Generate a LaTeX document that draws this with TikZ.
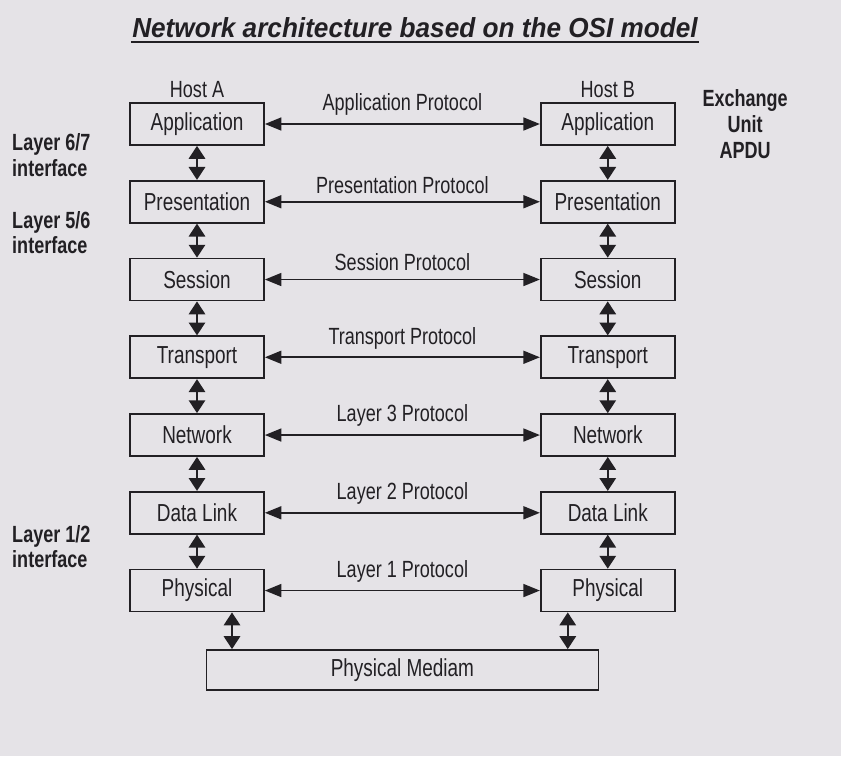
\documentclass[tikz,border=0pt]{standalone}
\usepackage{fontspec}
\setmainfont{Liberation Sans}[FakeStretch=0.77]
\newfontfamily\titlefont{Liberation Sans}[FakeStretch=0.95]
\usepackage{tikz}
\usetikzlibrary{positioning}
\usetikzlibrary{calc}
\usetikzlibrary{arrows.meta}

\definecolor{paper}{RGB}{229,227,231}
\definecolor{ink}{RGB}{34,32,36}

\tikzset{
	layerbox/.style={
		draw=ink,
		line width=1.5pt,
		fill=paper,
		text=ink,
		minimum width=4.02cm,
		minimum height=1.26cm,
		inner sep=0pt,
		font=\fontsize{21}{23}\selectfont
	},
	protocol/.style={
		draw=ink,
		line width=1.5pt,
		{Triangle[length=14pt,width=11pt]}-{Triangle[length=14pt,width=11pt]}
	},
	updown/.style={
		draw=ink,
		line width=1.5pt,
		{Triangle[length=11pt,width=14pt]}-{Triangle[length=11pt,width=14pt]}
	},
	protolabel/.style={
		midway,
		above=3pt,
		text=ink,
		font=\fontsize{20}{22}\selectfont
	},
	hostlabel/.style={
		inner sep=0pt,
		text=ink,
		font=\fontsize{20}{22}\selectfont
	},
	sidenote/.style={
		inner sep=0pt,
		anchor=west,
		text=ink,
		font=\fontsize{20}{22}\selectfont\bfseries
	}
}

\begin{document}
\begin{tikzpicture}

% paper
\fill[paper] (0,0) rectangle (25.23,-22.68);
\useasboundingbox (0,0) rectangle (25.23,-22.68);

\node[
	inner sep=1pt,
	text=ink,
	font=\titlefont\fontsize{23.5}{26}\selectfont\bfseries\itshape
] (title) at (12.45,-0.84) {Network architecture based on the OSI model};
\draw[ink, line width=2.2pt] ([yshift=-2pt]title.south west) -- ([yshift=-2pt]title.south east);

% Host A
\node[layerbox] (appA) at (5.91,-3.72) {Application};
\node[layerbox, below=1.02cm of appA] (presA) {Presentation};
\node[layerbox, below=1.02cm of presA] (sessA) {Session};
\node[layerbox, below=1.02cm of sessA] (transA) {Transport};
\node[layerbox, below=1.02cm of transA] (netA) {Network};
\node[layerbox, below=1.02cm of netA] (linkA) {Data Link};
\node[layerbox, below=1.02cm of linkA] (physA) {Physical};

% Host B
\node[layerbox, right=8.25cm of appA] (appB) {Application};
\node[layerbox, below=1.02cm of appB] (presB) {Presentation};
\node[layerbox, below=1.02cm of presB] (sessB) {Session};
\node[layerbox, below=1.02cm of sessB] (transB) {Transport};
\node[layerbox, below=1.02cm of transB] (netB) {Network};
\node[layerbox, below=1.02cm of netB] (linkB) {Data Link};
\node[layerbox, below=1.02cm of linkB] (physB) {Physical};

\node[hostlabel, above=0.12cm of appA] (hostA) {Host A};
\node[hostlabel, above=0.12cm of appB] (hostB) {Host B};
\node[sidenote, align=center, right=0.8cm of appB] (apdu) {Exchange\\Unit\\APDU};

% medium
\node[
	layerbox,
	anchor=north,
	minimum width=11.76cm,
	minimum height=1.2cm
] (medium) at ($(physA.south)!0.5!(physB.south) + (0,-1.1)$) {Physical Mediam};

% interfaces
\coordinate (margin) at (0.36,0);
\coordinate (gap67) at ($(appA.south)!0.5!(presA.north) + (0,0.24)$);
\coordinate (gap56) at ($(presA.south)!0.5!(sessA.north) + (0,0.24)$);
\coordinate (gap12) at ($(linkA.south)!0.5!(physA.north) + (0,0.15)$);
\node[sidenote, align=left] (if67) at (margin |- gap67) {Layer 6/7\\interface};
\node[sidenote, align=left] (if56) at (margin |- gap56) {Layer 5/6\\interface};
\node[sidenote, align=left] (if12) at (margin |- gap12) {Layer 1/2\\interface};

% peer protocols
\draw[protocol] (appA) -- (appB) node[protolabel] {Application Protocol};
\draw[protocol] (presA) -- (presB) node[protolabel] {Presentation Protocol};
\draw[protocol] (sessA) -- (sessB) node[protolabel] {Session Protocol};
\draw[protocol] (transA) -- (transB) node[protolabel] {Transport Protocol};
\draw[protocol] (netA) -- (netB) node[protolabel] {Layer 3 Protocol};
\draw[protocol] (linkA) -- (linkB) node[protolabel] {Layer 2 Protocol};
\draw[protocol] (physA) -- (physB) node[protolabel] {Layer 1 Protocol};

% layer interfaces
\foreach \upper/\lower in {appA/presA, presA/sessA, sessA/transA, transA/netA, netA/linkA, linkA/physA,
	appB/presB, presB/sessB, sessB/transB, transB/netB, netB/linkB, linkB/physB}
	\draw[updown] (\upper) -- (\lower);

\coordinate (tapA) at ([xshift=1.05cm]physA.south);
\coordinate (tapB) at ([xshift=-1.2cm]physB.south);
\draw[updown] (tapA) -- (tapA |- medium.north);
\draw[updown] (tapB) -- (tapB |- medium.north);

\end{tikzpicture}
\end{document}
